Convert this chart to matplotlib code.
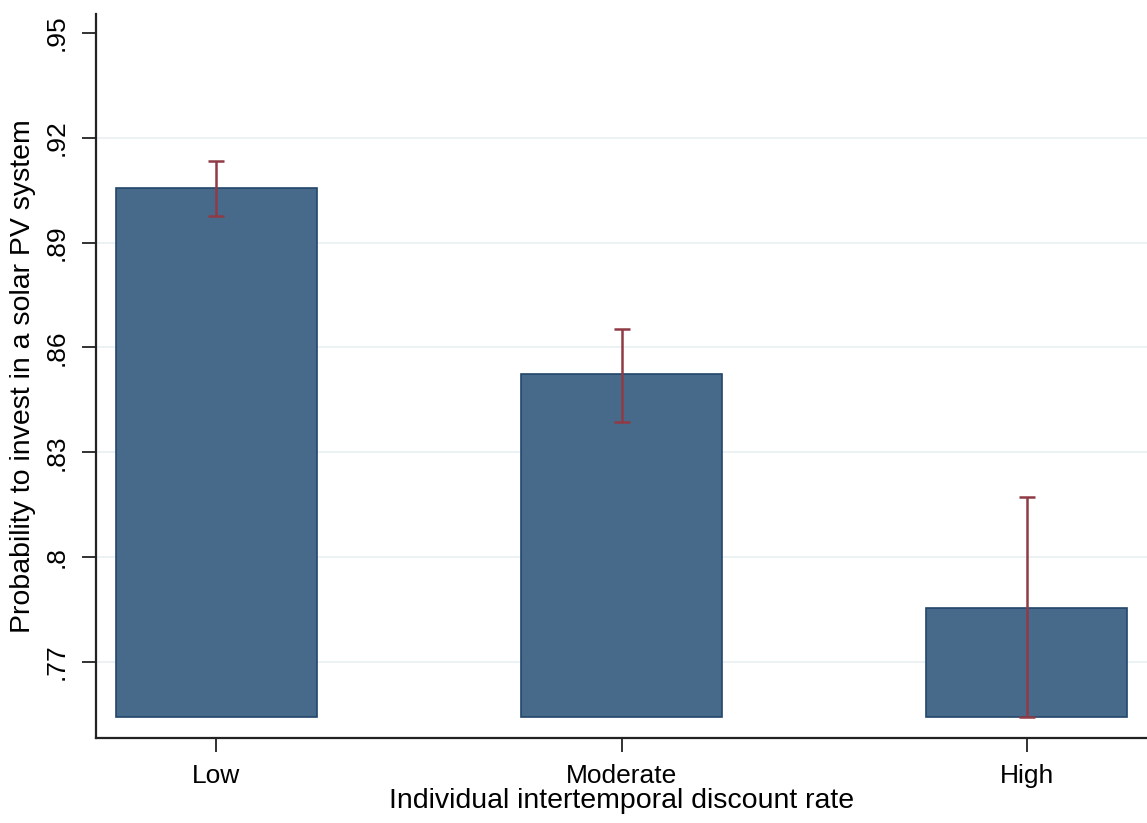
import numpy as np
import matplotlib
matplotlib.use('Agg')
import matplotlib.pyplot as plt

plt.rcParams['font.family'] = ['Liberation Sans', 'DejaVu Sans']

# discount rate groups and predicted probabilities with confidence bounds
groups = ['Low', 'Moderate', 'High']
prob = [0.9057, 0.8523, 0.7854]
ci_low = [0.8977, 0.8386, 0.7543]
ci_high = [0.9134, 0.8654, 0.8171]
base = 0.7543
yticks = [0.77, 0.80, 0.83, 0.86, 0.89, 0.92, 0.95]
ytick_labels = ['.77', '.8', '.83', '.86', '.89', '.92', '.95']

fig = plt.figure(figsize=(11.47, 8.23), dpi=100)
ax = fig.add_axes([0.0837, 0.1033, 0.9163, 0.8797])

x = np.arange(len(groups))
heights = np.array(prob) - base
ax.bar(x, heights, bottom=base, width=0.495, color='#476a8a',
       edgecolor='#22476a', linewidth=1.2, zorder=2)

err = [np.array(prob) - np.array(ci_low), np.array(ci_high) - np.array(prob)]
ax.errorbar(x, prob, yerr=err, fmt='none', ecolor='#8f3a44',
            elinewidth=1.8, capsize=5.5, capthick=1.8, zorder=3)

# light horizontal grid below the top tick
for yv in yticks[:-1]:
    ax.axhline(yv, color='#eaf1f3', linewidth=1.3, zorder=1)

ax.set_xlim(-0.297, 2.297)
ax.set_ylim(0.7483, 0.9554)
ax.set_yticks(yticks)
ax.set_yticklabels(ytick_labels, rotation=90, va='center')
ax.set_xticks(x)
ax.set_xticklabels(groups)
ax.tick_params(axis='both', labelsize=19, length=10, width=1.3, color='#222222')
ax.tick_params(axis='y', pad=10)
ax.tick_params(axis='x', pad=9)

for side in ['top', 'right']:
    ax.spines[side].set_visible(False)
for side in ['left', 'bottom']:
    ax.spines[side].set_linewidth(1.6)
    ax.spines[side].set_color('#222222')

ax.set_ylabel('Probability to invest in a solar PV system', fontsize=20.5, labelpad=6)
ax.set_xlabel('Individual intertemporal discount rate', fontsize=20.5, labelpad=0)

fig.savefig('out.png', dpi=100)
